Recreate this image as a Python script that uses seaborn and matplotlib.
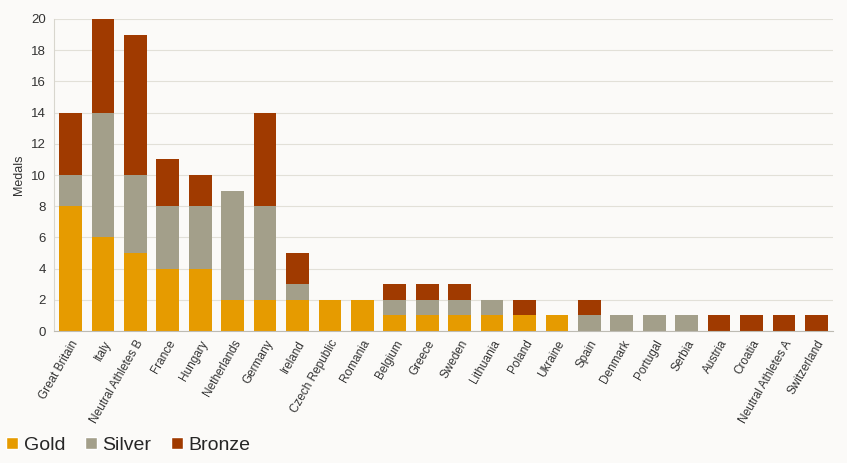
import pandas as pd
import numpy as np
import matplotlib
matplotlib.use("Agg")
import matplotlib.pyplot as plt
import seaborn as sns
from matplotlib.patches import Patch

countries = ["Great Britain", "Italy", "Neutral Athletes B", "France", "Hungary",
             "Netherlands", "Germany", "Ireland", "Czech Republic", "Romania",
             "Belgium", "Greece", "Sweden", "Lithuania", "Poland", "Ukraine",
             "Spain", "Denmark", "Portugal", "Serbia", "Austria", "Croatia",
             "Neutral Athletes A", "Switzerland"]
gold = [8, 6, 5, 4, 4, 2, 2, 2, 2, 2, 1, 1, 1, 1, 1, 1, 0, 0, 0, 0, 0, 0, 0, 0]
silver = [2, 8, 5, 4, 4, 7, 6, 1, 0, 0, 1, 1, 1, 1, 0, 0, 1, 1, 1, 1, 0, 0, 0, 0]
bronze = [4, 6, 9, 3, 2, 0, 6, 2, 0, 0, 1, 1, 1, 0, 1, 0, 1, 0, 0, 0, 1, 1, 1, 1]

colors = {"Gold": "#E69B00", "Silver": "#A39F8A", "Bronze": "#A03A00"}
bg = "#FBFAF8"

sns.set_style("white")
plt.rcParams['font.family'] = ['Liberation Sans', 'DejaVu Sans']

df = pd.DataFrame({"Country": countries, "Gold": gold, "Silver": silver, "Bronze": bronze})

fig = plt.figure(figsize=(8.47, 4.63), dpi=100, facecolor=bg)
ax = fig.add_axes([0.064, 0.285, 0.919, 0.674])
ax.set_facecolor(bg)

# stacked bars, one barplot per medal type
bottom = np.zeros(len(df))
for medal in ["Gold", "Silver", "Bronze"]:
    sns.barplot(data=df, x="Country", y=medal, color=colors[medal], order=countries,
                width=0.7, bottom=bottom, ax=ax, saturation=1, linewidth=0)
    bottom = bottom + df[medal].values

ax.set_ylim(0, 20)
ax.set_xlim(-0.5, len(countries) - 0.5)
ax.set_yticks(range(0, 21, 2))
ax.yaxis.grid(True, color="#E2E0D8", linewidth=0.8)
ax.set_axisbelow(True)
ax.set_xlabel("")
ax.set_ylabel("Medals", fontsize=9, color="#333333")
ax.tick_params(axis="y", labelsize=9.5, colors="#333333", length=0, pad=6)
ax.tick_params(axis="x", labelsize=8.5, colors="#333333", length=0, pad=5)
plt.setp(ax.get_xticklabels(), rotation=60, ha="right", rotation_mode="anchor")

for side in ["top", "right"]:
    ax.spines[side].set_visible(False)
ax.spines["left"].set_color("#D8D6CE")
ax.spines["bottom"].set_color("#BDBBB3")

handles = [Patch(facecolor=c, label=m) for m, c in colors.items()]
fig.legend(handles=handles, loc="lower left", bbox_to_anchor=(-0.013, -0.018), ncol=3,
           frameon=False, fontsize=14, handlelength=0.6, handleheight=0.6,
           handletextpad=0.3, columnspacing=1.0)

fig.savefig("out.png", dpi=100, facecolor=bg)
